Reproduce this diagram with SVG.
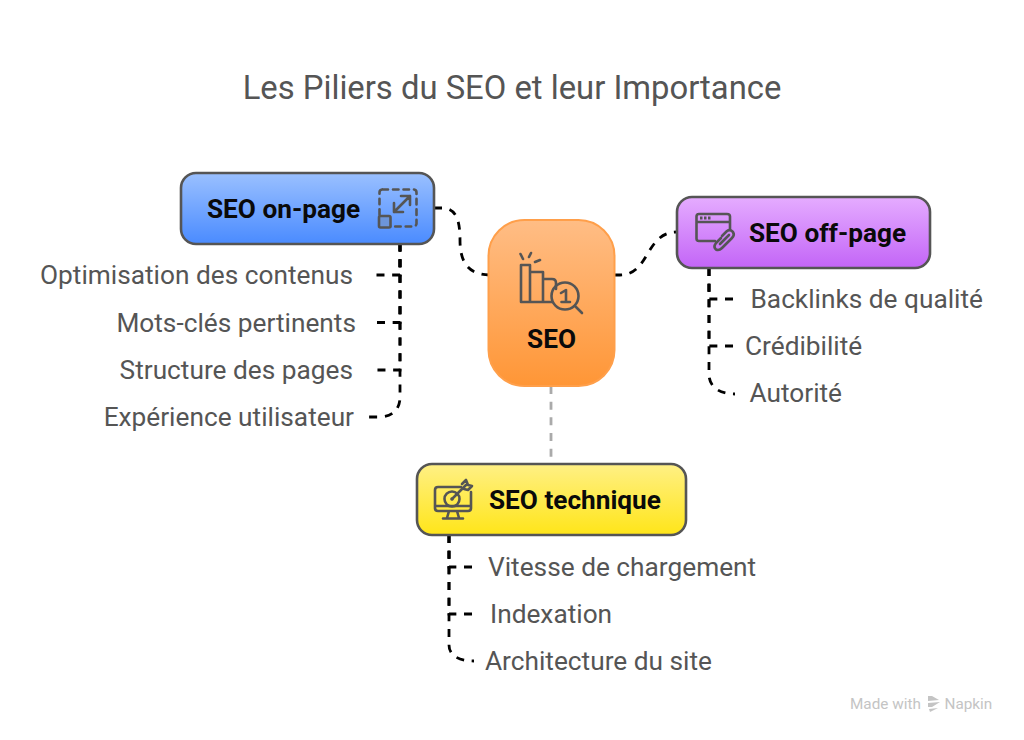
<svg xmlns="http://www.w3.org/2000/svg" width="1024" height="740" viewBox="0 0 1024 740">
<style>
text{font-family:Roboto,"Liberation Sans",sans-serif}
.t{font-size:32.800px;fill:#555}
.l{font-size:26.250px;fill:#555}
.n{font-size:26.200px;font-weight:700;fill:#0a0a0a}
.box{stroke:#555;stroke-width:2.6}
.c{fill:none;stroke:#000;stroke-width:2.8;stroke-dasharray:8 7.67}
.i{fill:none;stroke:#555;stroke-width:2.6;stroke-linecap:round;stroke-linejoin:round}
</style>
<defs>
<linearGradient id="gb" x1="0" y1="0" x2="0" y2="1"><stop offset="0" stop-color="#9ac0ff"/><stop offset="1" stop-color="#4a8bff"/></linearGradient>
<linearGradient id="go" x1="0" y1="0" x2="0" y2="1"><stop offset="0" stop-color="#ffbd85"/><stop offset="1" stop-color="#ff9636"/></linearGradient>
<linearGradient id="gp" x1="0" y1="0" x2="0" y2="1"><stop offset="0" stop-color="#e5acff"/><stop offset="1" stop-color="#c365f7"/></linearGradient>
<linearGradient id="gy" x1="0" y1="0" x2="0" y2="1"><stop offset="0" stop-color="#fff085"/><stop offset="1" stop-color="#ffe519"/></linearGradient>
</defs>
<rect width="1024" height="740" fill="#fff"/>
<text class="t" x="512" y="98.500" text-anchor="middle">Les Piliers du SEO et leur Importance</text>
<g id="connectors">
<path class="c" d="M434 208H442C456 208 460 220 460 240C460 262 468 275 490 275"/>
<path class="c" d="M614 275H620C650 275 645 232 677 232"/>
<path class="c" style="stroke:#aaa" d="M551 386V464"/>
<path class="c" d="M400 243.500V275H375"/>
<path class="c" d="M400 243.500V322.500H375"/>
<path class="c" d="M400 243.500V370H375"/>
<path class="c" d="M400 243.500V397C400 410 392 417 378 417H368"/>
<path class="c" d="M709 268V299H735"/>
<path class="c" d="M709 268V346H735"/>
<path class="c" d="M709 268V374C709 386 718 394 735 394"/>
<path class="c" d="M449 535V567H474"/>
<path class="c" d="M449 535V614H474"/>
<path class="c" d="M449 535V645C449 655 458 661 474 661"/>
</g>
<g id="seo">
<rect x="488.500" y="220" width="126" height="166" rx="36" fill="url(#go)" stroke="#ff9f4a" stroke-width="2"/>
<path class="i" d="M521 302V265H530V302ZM530 272H543V302H530M543 279H552Q556 279 556 283V289M521 302H552"/>
<path class="i" d="M523 259L520.500 254M529 257L531 253M535 262L540 260"/>
<circle class="i" cx="565" cy="296" r="13.500"/>
<path class="i" d="M575 306L582 313M561 293L566 290V302M561.500 302H570" />
<text class="n" x="551.500" y="348" text-anchor="middle">SEO</text>
</g>
<g id="on-page">
<rect class="box" x="181" y="173" width="253" height="71" rx="15" fill="url(#gb)"/>
<text class="n" x="207" y="218">SEO on-page</text>
<rect class="i" x="379.500" y="189.500" width="37" height="37" rx="3" stroke-dasharray="5.500 5"/>
<rect x="379" y="216" width="11.500" height="11.500" rx="1.500" fill="#6d95d9" stroke="#555" stroke-width="2.600"/>
<path class="i" d="M394 212L410 196M401 196H410V205M394 203V212H403"/>
<text class="l" x="353" y="284" text-anchor="end">Optimisation des contenus</text>
<text class="l" x="356" y="332" text-anchor="end">Mots-clés pertinents</text>
<text class="l" x="353" y="379" text-anchor="end">Structure des pages</text>
<text class="l" x="354" y="426" text-anchor="end">Expérience utilisateur</text>
</g>
<g id="off-page">
<rect class="box" x="677" y="197" width="253" height="71" rx="15" fill="url(#gp)"/>
<text class="n" x="749" y="242">SEO off-page</text>
<path class="i" d="M715 241H699Q696.500 241 696.500 238.500V216.500Q696.500 214 699 214H727Q730 214 730 216.500V229M696.500 222H730"/>
<path d="M700 218H711" stroke="#555" stroke-width="3" stroke-dasharray="2.500 1.500" fill="none"/>
<path class="i" d="M722 236L727 231Q730 229 733 232Q735 235 732 238L727 243M721 238L716 243Q713 247 716 249.500Q719 251 722 248L727 243M720 244L729 235"/>
<text class="l" x="750.500" y="308">Backlinks de qualité</text>
<text class="l" x="745" y="355">Crédibilité</text>
<text class="l" x="749.500" y="402">Autorité</text>
</g>
<g id="technique">
<rect class="box" x="417" y="464" width="269" height="71" rx="15" fill="url(#gy)"/>
<text class="n" x="489" y="509">SEO technique</text>
<path class="i" d="M461 487H438Q435 487 435 490V508Q435 511 438 511H468Q471 511 471 508V492M435 506H471M449 511L447 518M457 511L459 518M443 518.500H463"/>
<circle class="i" cx="452" cy="499" r="7.500"/>
<circle cx="452" cy="499" r="1.800" fill="#555"/>
<path class="i" d="M452 499L466 485M462 484L466 480L468 485L472 486L468 490L464 489"/>
<text class="l" x="488" y="576">Vitesse de chargement</text>
<text class="l" x="490" y="623">Indexation</text>
<text class="l" x="485" y="670">Architecture du site</text>
</g>
<g id="watermark">
<text x="850" y="709" font-size="15.300" fill="#c4c4c4">Made with</text>
<path d="M928 696L932 696L939 700L928 701ZM928 703L940 702L932 707L928 707ZM929 709L938 708L930 712Z" fill="#c4c4c4"/>
<text x="944.500" y="709" font-size="15.300" fill="#c4c4c4">Napkin</text>
</g>
</svg>
